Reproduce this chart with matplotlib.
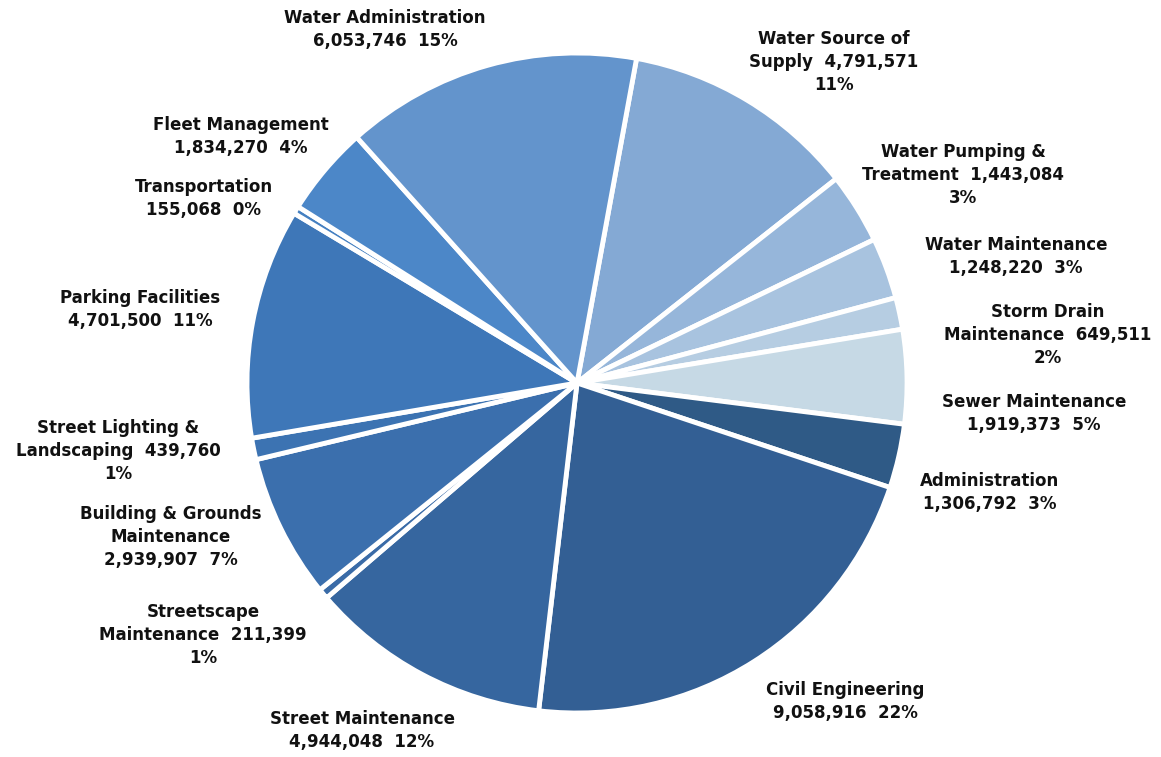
import matplotlib.pyplot as plt

# Budget by division, clockwise from the top
divisions = ['Water Source of\nSupply', 'Water Pumping &\nTreatment', 'Water Maintenance',
             'Storm Drain\nMaintenance', 'Sewer Maintenance', 'Administration',
             'Civil Engineering', 'Street Maintenance', 'Streetscape\nMaintenance',
             'Building & Grounds\nMaintenance', 'Street Lighting &\nLandscaping',
             'Parking Facilities', 'Transportation', 'Fleet Management', 'Water Administration']
amounts = [4791571, 1443084, 1248220, 649511, 1919373, 1306792, 9058916, 4944048,
           211399, 2939907, 439760, 4701500, 155068, 1834270, 6053746]

colors = ['#84a9d4', '#96b6da', '#a8c3df', '#b6cde2', '#c6d9e5', '#2f5a86', '#335f94',
          '#36669f', '#3a6ba7', '#3b6fad', '#3c73b2', '#3e77b8', '#4580c1', '#4c87c8', '#6394cc']
explode = [0.03, 0.015, 0.01, 0.01, 0.04, 0.035, 0.0, 0.0, 0.02, 0.0, 0.03, 0.0, 0.0, 0.01, 0.0]

# label text layout: (center x px, top y px, text format)
label_pos = [
    (834, 30, '{0}  {1}\n{2}'), (963, 143, '{0}  {1}\n{2}'), (1016, 236, '{0}\n{1}  {2}'),
    (1048, 303, '{0}  {1}\n{2}'), (1034, 393, '{0}\n{1}  {2}'), (990, 472, '{0}\n{1}  {2}'),
    (845, 681, '{0}\n{1}  {2}'), (362, 710, '{0}\n{1}  {2}'), (203, 603, '{0}  {1}\n{2}'),
    (171, 505, '{0}\n{1}  {2}'), (118, 419, '{0}  {1}\n{2}'), (140, 289, '{0}\n{1}  {2}'),
    (204, 178, '{0}\n{1}  {2}'), (241, 116, '{0}\n{1}  {2}'), (385, 9, '{0}\n{1}  {2}'),
]

W, H = 1161, 757
fig = plt.figure(figsize=(W / 100, H / 100), dpi=100)
ax = fig.add_axes([0, 0, 1, 1])

cx, cy, r = 577, 383, 330
total = sum(amounts)
start = 79.6

wedges, _ = ax.pie(amounts, colors=colors, explode=explode, startangle=start,
                   counterclock=False, center=(cx, H - cy), radius=r,
                   wedgeprops=dict(edgecolor='white', linewidth=3.5))
ax.set_xlim(0, W)
ax.set_ylim(0, H)
ax.set_aspect('equal')
ax.axis('off')

for name, val, (x, y, fmt) in zip(divisions, amounts, label_pos):
    pct = '{:.0f}%'.format(100 * val / total)
    txt = fmt.format(name, '{:,}'.format(val), pct)
    ax.text(x, H - y, txt, ha='center', va='top', fontsize=12, fontweight='bold',
            family='DejaVu Sans', linespacing=1.35, color='#111111')

fig.savefig('out.png', dpi=100, facecolor='white')
